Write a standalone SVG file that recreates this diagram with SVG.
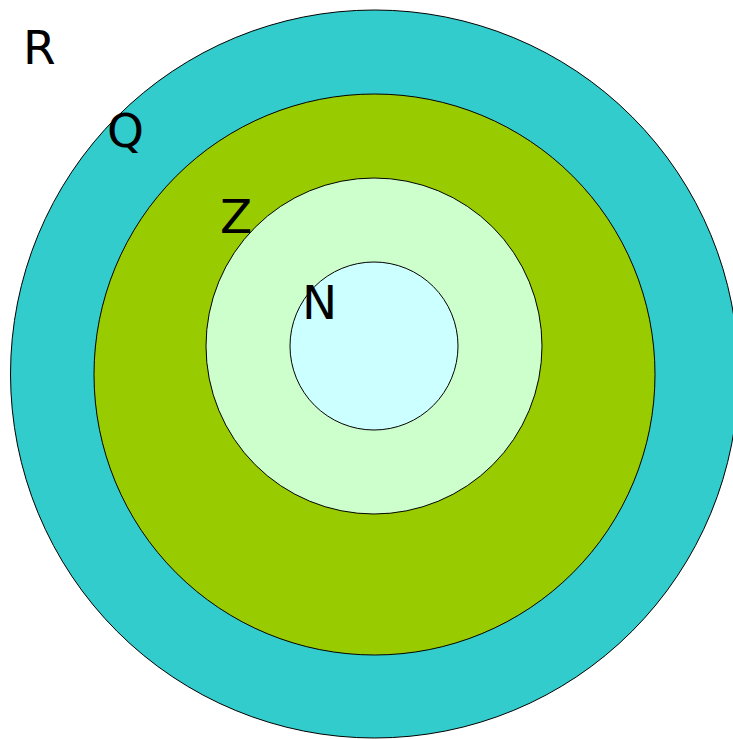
<svg xmlns="http://www.w3.org/2000/svg" width="733" height="739" viewBox="0 0 733 739">
<style>
.ring{stroke:#000;stroke-width:1}
.lbl{font-family:"DejaVu Sans",sans-serif;font-size:47px;fill:#000}
</style>
<rect width="733" height="739" fill="#fff"/>
<g id="R"><circle class="ring" cx="374.5" cy="374" r="364" fill="#33cccc"/></g>
<g id="Q"><circle class="ring" cx="374.5" cy="374.5" r="280.5" fill="#99cc00"/></g>
<g id="Z"><circle class="ring" cx="374" cy="346" r="168" fill="#ccffcc"/></g>
<g id="N"><circle class="ring" cx="374" cy="346" r="84" fill="#ccffff"/></g>
<g id="labels">
<text class="lbl" x="23" y="64">R</text>
<text class="lbl" x="107" y="147">Q</text>
<text class="lbl" x="220" y="233">Z</text>
<text class="lbl" x="302" y="319">N</text>
</g>
</svg>
